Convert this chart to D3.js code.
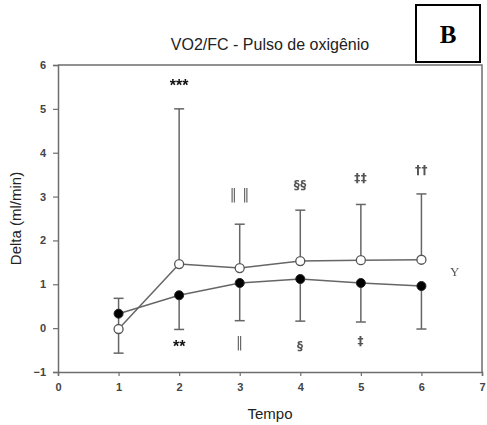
<!DOCTYPE html>
<html><head><meta charset="utf-8">
<script src="https://cdn.jsdelivr.net/npm/d3@7"></script>
<style>body{margin:0;background:#fff}svg{display:block}</style>
</head><body><div id="chart"></div>
<script>
const tempo = [1, 2, 3, 4, 5, 6];
const openMean = [-0.02, 1.46, 1.37, 1.53, 1.55, 1.56];
const openUpper = [0.68, 5.0, 2.37, 2.69, 2.82, 3.06];
const openLower = [-0.57, null, null, null, null, null];
const filledMean = [0.33, 0.75, 1.03, 1.12, 1.03, 0.96];
const filledLower = [null, -0.03, 0.17, 0.16, 0.14, -0.02];
const xTicks = [0, 1, 2, 3, 4, 5, 6, 7];
const yTicks = [-1, 0, 1, 2, 3, 4, 5, 6];
const upperMarks = [{x: 2, y: 5.5, t: "***"}, {x: 3, y: 3.03, t: "‖ ‖"}, {x: 4, y: 3.25, t: "§§"}, {x: 5, y: 3.42, t: "‡‡"}, {x: 6, y: 3.6, t: "††"}];
const lowerMarks = [{x: 2, y: -0.45, t: "**"}, {x: 3, y: -0.35, t: "‖"}, {x: 4, y: -0.42, t: "§"}, {x: 5, y: -0.3, t: "‡"}];
const gammaMark = {x: 6.55, y: 1.25, t: "Y"};

const W = 487, H = 425;
const m = {l: 58, r: 482, t: 65, b: 372};
const svg = d3.select("#chart").append("svg").attr("width", W).attr("height", H);
const x = d3.scaleLinear().domain([0, 7]).range([m.l, m.r]);
const y = d3.scaleLinear().domain([-1, 6]).range([m.b, m.t]);
const axisColor = "#6e6e6e";
const font = "Arial, 'Liberation Sans', sans-serif";
const symFont = "'DejaVu Sans', sans-serif";

svg.append("defs").append("filter").attr("id", "gray").attr("x", "-20%").attr("y", "-20%").attr("width", "140%").attr("height", "140%")
  .append("feOffset").attr("dx", 0).attr("dy", 0);

svg.append("path").attr("d", `M${m.l},${m.t}H${m.r}V${m.b}`).attr("fill", "none").attr("stroke", axisColor).attr("stroke-width", 1.5);

const gx = svg.append("g").attr("transform", `translate(0,${m.b})`)
  .call(d3.axisBottom(x).tickValues(xTicks).tickSize(4).tickPadding(7).tickFormat(d3.format("d")));
const gy = svg.append("g").attr("transform", `translate(${m.l},0)`)
  .call(d3.axisLeft(y).tickValues(yTicks).tickSize(5).tickPadding(7).tickFormat(d3.format("d")));
[gx, gy].forEach(g => {
  g.select(".domain").attr("stroke", axisColor).attr("stroke-width", 1.5);
  g.selectAll(".tick line").attr("stroke", axisColor).attr("stroke-width", 1.2);
  g.selectAll("text").attr("font-family", font).attr("font-size", 11).attr("font-weight", "bold").attr("fill", "#444");
});

const lineColor = "#666";
const line = d3.line().x(d => x(d[0])).y(d => y(d[1]));
const errCap = 5;

function errorBars(means, ends) {
  tempo.forEach((t, i) => {
    if (ends[i] == null) return;
    svg.append("line").attr("x1", x(t)).attr("x2", x(t)).attr("y1", y(means[i])).attr("y2", y(ends[i]))
      .attr("stroke", lineColor).attr("stroke-width", 1.5);
    svg.append("line").attr("x1", x(t) - errCap).attr("x2", x(t) + errCap).attr("y1", y(ends[i])).attr("y2", y(ends[i]))
      .attr("stroke", lineColor).attr("stroke-width", 1.5);
  });
}
errorBars(openMean, openUpper);
errorBars(openMean, openLower);
errorBars(filledMean, filledLower);

svg.append("path").datum(tempo.map((t, i) => [t, openMean[i]])).attr("d", line)
  .attr("fill", "none").attr("stroke", lineColor).attr("stroke-width", 1.5);
svg.append("path").datum(tempo.map((t, i) => [t, filledMean[i]])).attr("d", line)
  .attr("fill", "none").attr("stroke", lineColor).attr("stroke-width", 1.5);

svg.selectAll(".open").data(tempo).enter().append("circle")
  .attr("cx", d => x(d)).attr("cy", (d, i) => y(openMean[i])).attr("r", 4.5)
  .attr("fill", "#fff").attr("stroke", "#555").attr("stroke-width", 1.3);
svg.selectAll(".filled").data(tempo).enter().append("circle")
  .attr("cx", d => x(d)).attr("cy", (d, i) => y(filledMean[i])).attr("r", 4.5)
  .attr("fill", "#000").attr("stroke", "#222").attr("stroke-width", 1);

const symG = svg.append("g").attr("filter", "url(#gray)");
upperMarks.concat(lowerMarks).forEach(mk => {
  const star = mk.t.includes("*");
  const bar = mk.t.includes("‖");
  symG.append("text").attr("x", x(mk.x)).attr("y", y(mk.y)).attr("text-anchor", "middle")
    .attr("dominant-baseline", "middle").attr("font-family", star ? font : symFont)
    .attr("font-size", star ? 16 : (bar ? 14 : 12)).attr("letter-spacing", star ? 0 : 0.5)
    .attr("fill", star ? "#111" : (bar ? "#666" : "#555")).attr("font-weight", bar ? "normal" : "bold").text(mk.t);
});
symG.append("text").attr("x", x(gammaMark.x)).attr("y", y(gammaMark.y)).attr("text-anchor", "middle")
  .attr("dominant-baseline", "middle").attr("font-family", "'Liberation Serif', serif").attr("font-size", 13)
  .attr("fill", "#555").text(gammaMark.t);

svg.append("text").attr("x", 270).attr("y", 50).attr("text-anchor", "middle")
  .attr("font-family", font).attr("font-size", 16).attr("fill", "#222").text("VO2/FC - Pulso de oxigênio");
svg.append("text").attr("x", 270).attr("y", 419).attr("text-anchor", "middle")
  .attr("font-family", font).attr("font-size", 15).attr("fill", "#222").text("Tempo");
svg.append("text").attr("transform", `translate(21,${y(2.5)}) rotate(-90)`).attr("text-anchor", "middle")
  .attr("font-family", font).attr("font-size", 15).attr("fill", "#222").text("Delta (ml/min)");

svg.append("rect").attr("x", 416).attr("y", 5).attr("width", 64).attr("height", 57)
  .attr("fill", "#fff").attr("stroke", "#000").attr("stroke-width", 2);
svg.append("text").attr("x", 448).attr("y", 43).attr("text-anchor", "middle")
  .attr("font-family", "'Liberation Serif', 'Times New Roman', serif").attr("font-weight", "bold")
  .attr("font-size", 25).attr("fill", "#000").text("B");
</script></body></html>
